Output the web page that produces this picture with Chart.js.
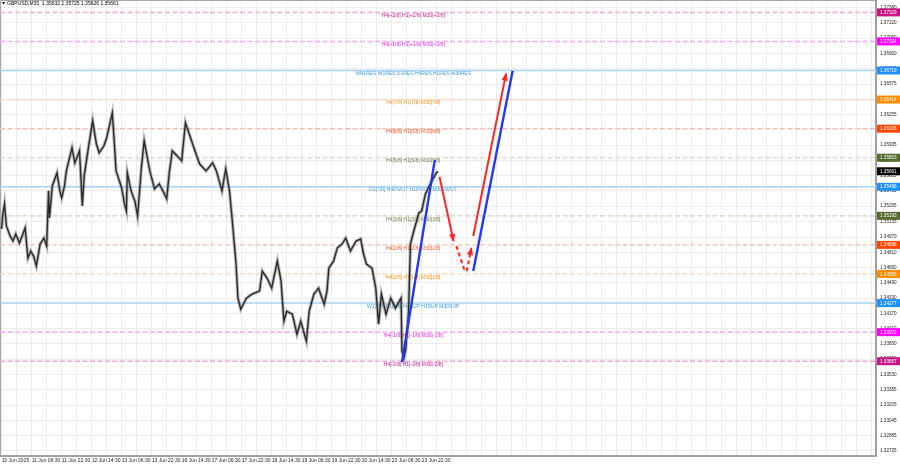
<!DOCTYPE html>
<html><head><meta charset="utf-8">
<script src="https://cdn.jsdelivr.net/npm/chart.js@4.4.1/dist/chart.umd.min.js"></script>
<style>html,body{margin:0;padding:0;background:#fff;overflow:hidden}#wrap{width:900px;height:468px}</style>
</head><body><div id="wrap"><canvas id="c" width="900" height="468"></canvas></div>
<script>
const symbolTitle = "GBPUSD,M30  1.35632 1.35725 1.35626 1.35661";
const timeLabels = ["10 Jun 2025","11 Jun 06:30","11 Jun 22:30","12 Jun 14:30","13 Jun 06:30","13 Jun 22:30","16 Jun 14:30","17 Jun 06:30","17 Jun 22:30","18 Jun 14:30","19 Jun 06:30","19 Jun 22:30","20 Jun 14:30","23 Jun 06:30","23 Jun 22:30"];
const priceTicks = [1.37380,1.37220,1.37060,1.36900,1.36740,1.36575,1.36415,1.36255,1.36095,1.35935,1.35775,1.35615,1.35455,1.35295,1.35135,1.34970,1.34810,1.34650,1.34490,1.34330,1.34170,1.34010,1.33850,1.33690,1.33530,1.33365,1.33205,1.33045,1.32885,1.32725];

// price path (bar index, price)
const priceBars = [0,1,3,5,9,12,15,19,25,28,31,34,37,41,45,48,50,51,54,59,62,64,67,69,75,78,83,86,88,92,97,101,104,109,112,118,120,122,128,131,133,134,138,142,145,149,152,158,163,168,172,176,179,182,187,192,196,200,205,211,218,225,229,232,235,239,243,246,250,252,255,261,267,275,278,283,288,294,298,301,304,310,315,319,325,328,333,338,344,347,349,354,358,363,367,372,378,383,386,389,395,399,402,405,410,415,420,426,427,429,431,434,436,439,445,448,452,455,459,463,465];
const priceValues = [1.35055,1.35192,1.35318,1.35087,1.34981,1.34929,1.35002,1.34908,1.35066,1.34750,1.34824,1.34771,1.34666,1.34897,1.34960,1.34876,1.35455,1.35171,1.35507,1.35644,1.35455,1.35381,1.35507,1.35665,1.35907,1.35749,1.35876,1.35297,1.35613,1.35876,1.36191,1.35949,1.35855,1.35928,1.36012,1.36275,1.35981,1.35665,1.35486,1.35318,1.35244,1.35644,1.35455,1.35350,1.35192,1.35697,1.35981,1.35665,1.35476,1.35528,1.35455,1.35371,1.35665,1.35876,1.35823,1.35770,1.36170,1.36054,1.35907,1.35739,1.35665,1.35749,1.35665,1.35560,1.35455,1.35686,1.35455,1.35139,1.34687,1.34329,1.34213,1.34329,1.34371,1.34403,1.34613,1.34540,1.34434,1.34718,1.34508,1.34087,1.34192,1.34161,1.33950,1.34087,1.33877,1.34192,1.34371,1.34434,1.34266,1.34403,1.34645,1.34718,1.34855,1.34897,1.34960,1.34824,1.34929,1.34950,1.34792,1.34687,1.34645,1.34434,1.34056,1.34371,1.34161,1.34329,1.34224,1.34329,1.33772,1.33698,1.33793,1.34192,1.34897,1.35013,1.35223,1.35244,1.35423,1.35486,1.35560,1.35634,1.35661];

const levelNames = ["H4[+2/8] H1[+2/8] M30[+2/8]","H4[+1/8] H1[+1/8] M30[+1/8]","MN1RES W1RES D1RES H4RES H1RES M30RES","H4[7/8] H1[7/8] M30[7/8]","H4[6/8] H1[6/8] M30[6/8]","H4[5/8] H1[5/8] M30[5/8]","D1[7/8] H4PIVOT H1PIVOT M30PIVOT","H4[3/8] H1[3/8] M30[3/8]","H4[2/8] H1[2/8] M30[2/8]","H4[1/8] H1[1/8] M30[1/8]","W1[7/8] D1[6/8] H4SUP H1SUP M30SUP","H4[-1/8] H1[-1/8] M30[-1/8]","H4[-2/8] H1[-2/8] M30[-2/8]"];
const levelValues = [1.37329,1.37024,1.36719,1.36414,1.36108,1.35803,1.35498,1.35193,1.34888,1.34583,1.34277,1.33972,1.33667];
const levelKinds = ["p2","p1","sr","o7","o6","g","sr","g","o6","o7","sr","p1","p2"];
const currentPrice = 1.35661;

// forecast lines
const blue1Bars = [427,462], blue1Prices = [1.33656,1.35781];
const blue2Bars = [503,545], blue2Prices = [1.34613,1.36717];
const red1Bars = [467,482], red1Prices = [1.35602,1.34929];
const red2Bars = [485,494], red2Prices = [1.34876,1.34613];
const red3Bars = [496,501], red3Prices = [1.34613,1.34855];
const red4Bars = [503,538], red4Prices = [1.34981,1.36686];

const kindStyle = {
  p2:{line:"#f1a9d6",text:"#c71585",box:"#c71585",dash:[5,2.5],w:1.5},
  p1:{line:"#f6a6f6",text:"#e81ee8",box:"#ff00ff",dash:[5,2.5],w:1.5},
  sr:{line:"#a6d2f6",text:"#3d9be6",box:"#1e90ff",dash:[],w:1.5},
  o7:{line:"#fbd6ae",text:"#f2900f",box:"#ff8c00",dash:[5,2.5],w:1.2},
  o6:{line:"#f9bcac",text:"#ff5522",box:"#ff4500",dash:[5,2.5],w:1.2},
  g:{line:"#cfcfbf",text:"#6a7a40",box:"#556b2f",dash:[5,2.5],w:1.2}
};

const XMIN = -1.8, XMAX = 932.6;
const pts = (bs, ps) => bs.map((b,i)=>({x:b,y:ps[i]}));

const datasets = [];
levelValues.forEach((v,i)=>{
  const st = kindStyle[levelKinds[i]];
  datasets.push({type:'line',label:levelNames[i],data:[{x:XMIN,y:v},{x:XMAX,y:v}],borderColor:st.line,borderWidth:st.w,borderDash:st.dash,pointRadius:0,order:4});
});
datasets.push({type:'line',label:'GBPUSD',data:pts(priceBars,priceValues),borderColor:'#2a2a2a',borderWidth:1.4,pointRadius:0,tension:0,order:2});
datasets.push({type:'line',label:'GBPUSD range',data:pts(priceBars,priceValues),borderColor:'rgba(130,130,130,0.55)',borderWidth:3.4,pointRadius:0,tension:0,order:3});
const blue = '#2238f5', red = '#ff2626';
datasets.push({type:'line',data:pts(blue1Bars,blue1Prices),borderColor:blue,borderWidth:2.4,pointRadius:0,order:1});
datasets.push({type:'line',data:pts(blue2Bars,blue2Prices),borderColor:blue,borderWidth:2.4,pointRadius:0,order:1});
datasets.push({type:'line',data:pts(red1Bars,red1Prices),borderColor:red,borderWidth:2,pointRadius:0,order:1,arrowHead:true});
datasets.push({type:'line',data:pts(red2Bars,red2Prices),borderColor:red,borderWidth:2,borderDash:[4,3],pointRadius:0,order:1});
datasets.push({type:'line',data:pts(red3Bars,red3Prices),borderColor:red,borderWidth:2,borderDash:[4,3],pointRadius:0,order:1,arrowHead:true});
datasets.push({type:'line',data:pts(red4Bars,red4Prices),borderColor:red,borderWidth:2,pointRadius:0,order:1,arrowHead:true});

const FONT = "'Liberation Sans', Arial, sans-serif";

const mtPlugin = {
  id:'mt',
  beforeDatasetsDraw(chart){
    const {ctx, chartArea:a, scales:{x,y}} = chart;
    ctx.save();
    ctx.strokeStyle = '#a8a8a8'; ctx.lineWidth = 1;
    ctx.beginPath(); ctx.moveTo(a.left+0.5,a.bottom); ctx.lineTo(a.left+0.5,a.top+0.5); ctx.lineTo(a.right,a.top+0.5); ctx.stroke();
    ctx.font = "5px " + FONT; ctx.textAlign='center'; ctx.textBaseline='top';
    const lx = x.getPixelForValue(439);
    levelValues.forEach((v,i)=>{
      ctx.fillStyle = kindStyle[levelKinds[i]].text;
      ctx.fillText(levelNames[i], lx, y.getPixelForValue(v)+0.8);
    });
    ctx.restore();
  },
  afterDatasetsDraw(chart){
    const ctx = chart.ctx;
    chart.data.datasets.forEach((ds,i)=>{
      if(!ds.arrowHead) return;
      const m = chart.getDatasetMeta(i).data; if(m.length<2) return;
      const p1 = m[m.length-2], p2 = m[m.length-1];
      const ang = Math.atan2(p2.y-p1.y, p2.x-p1.x);
      const L = 7, W = 3.2;
      ctx.save(); ctx.fillStyle = ds.borderColor;
      ctx.translate(p2.x,p2.y); ctx.rotate(ang);
      ctx.beginPath(); ctx.moveTo(1,0); ctx.lineTo(-L,-W); ctx.lineTo(-L,W); ctx.closePath(); ctx.fill();
      ctx.restore();
    });
  },
  afterDraw(chart){
    const {ctx, chartArea:a, scales:{y}} = chart;
    ctx.save();
    ctx.fillStyle='#000'; ctx.font = "5px " + FONT; ctx.textBaseline='middle'; ctx.textAlign='left';
    ctx.beginPath(); ctx.moveTo(2,2); ctx.lineTo(5,2); ctx.lineTo(3.5,4.5); ctx.closePath(); ctx.fill();
    ctx.fillText(symbolTitle, 7, 3.5);
    const box = (v,col)=>{
      const py = y.getPixelForValue(v);
      ctx.fillStyle = col; ctx.fillRect(a.right+1, py-4, 23, 8);
      ctx.fillStyle = '#fff'; ctx.font = "4.6px " + FONT; ctx.textAlign='left'; ctx.textBaseline='middle';
      ctx.fillText(v.toFixed(5), a.right+4, py+0.3);
    };
    levelValues.forEach((v,i)=>box(v, kindStyle[levelKinds[i]].box));
    box(currentPrice, '#000');
    ctx.restore();
  }
};

new Chart(document.getElementById('c'), {
  data:{datasets},
  options:{
    responsive:false, animation:false, devicePixelRatio:1,
    layout:{padding:{top:0,left:0,right:0,bottom:0}},
    plugins:{legend:{display:false},tooltip:{enabled:false}},
    scales:{
      x:{type:'linear',min:XMIN,max:XMAX,
        afterBuildTicks(s){ const t=[]; for(let b=0;b<=XMAX;b+=16) t.push({value:b}); s.ticks=t; },
        afterFit(s){ s.height = 12; s.paddingLeft = 0; s.paddingRight = 0; s.paddingTop = 0; s.paddingBottom = 0; },
        ticks:{autoSkip:false,maxRotation:0,align:'start',padding:2,color:'#222',font:{size:5,family:FONT},
          callback:(v)=> (v%32===0 && timeLabels[v/32]) ? timeLabels[v/32] : ''},
        grid:{color:'#ececec',lineWidth:1,drawTicks:false},
        border:{display:true,color:'#a0a0a0',width:2}
      },
      y:{type:'linear',position:'right',min:1.32672,max:1.37459,
        afterBuildTicks(s){ s.ticks = priceTicks.map(v=>({value:v})); },
        afterFit(s){ s.width = 24; s.paddingTop = 0; s.paddingBottom = 0; s.paddingLeft = 0; s.paddingRight = 0; },
        ticks:{autoSkip:false,padding:4,crossAlign:'near',color:'#222',font:{size:4.6,family:FONT},callback:(v)=>Number(v).toFixed(5)},
        grid:{color:'#ececec',lineWidth:1,drawTicks:false},
        border:{display:true,color:'#a0a0a0',width:2}
      }
    }
  },
  plugins:[mtPlugin]
});
</script></body></html>
